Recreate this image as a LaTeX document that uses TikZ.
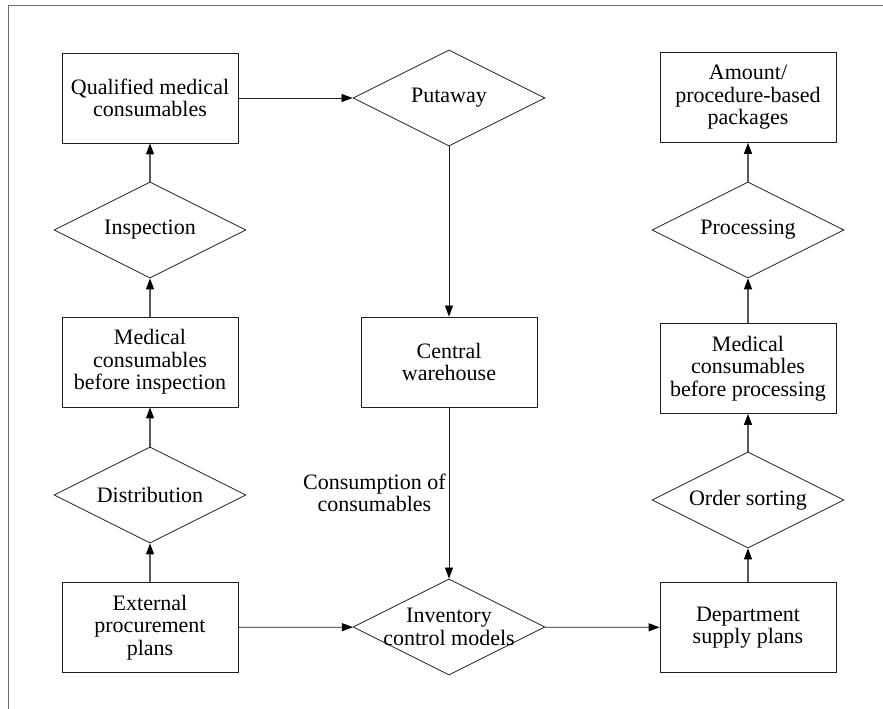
\documentclass[tikz,border=0pt]{standalone}
\usepackage{fontspec}
\setmainfont{Liberation Serif}
\usetikzlibrary{shapes.geometric,arrows.meta}
\definecolor{drawColor}{RGB}{30,30,30}
\definecolor{arrowColor}{RGB}{90,90,90}
\definecolor{frameColor}{RGB}{110,110,110}
\begin{document}
\begin{tikzpicture}[x=1pt,y=1pt,
  box/.style={draw=drawColor,line width=0.8pt,minimum width=176pt,minimum height=90pt,inner sep=0pt,align=center,font=\fontsize{22}{22.5}\selectfont},
  dia/.style={draw=drawColor,line width=0.8pt,diamond,aspect=2,minimum width=192pt,minimum height=96pt,inner sep=0pt,align=center,font=\fontsize{22}{22.5}\selectfont},
  txt/.style={inner sep=3pt,align=center,font=\fontsize{22}{22.5}\selectfont},
  flow/.style={draw=drawColor,line width=0.8pt,-{Triangle[length=11pt,width=8pt,fill=black,color=black]}},
  upflow/.style={flow,draw=arrowColor,line width=1.3pt}]
\path[use as bounding box,fill=white] (0,0) rectangle (883,709);
\path[draw=frameColor,line width=1pt] (8,0) -- (8,703) -- (883,703);

\node[box] (qual) at (150,611) {Qualified medical\\consumables};
\node[dia] (insp) at (150,479) {Inspection};
\node[box] (medi) at (150,347) {Medical\\consumables\\before inspection};
\node[dia] (dist) at (150,214) {Distribution};
\node[box] (ext) at (150,81.5) {External\\procurement\\plans};

\node[dia] (put) at (449,611) {Putaway};
\node[box] (cent) at (449,347) {Central\\warehouse};
\node[dia] (inv) at (449,82) {};
\node[txt] (invtxt) at (inv) {Inventory\\control models};

\node[box] (amt) at (748,611.5) {Amount/\\procedure-based\\packages};
\node[dia] (proc) at (748,479) {Processing};
\node[box] (medp) at (748,340.5) {Medical\\consumables\\before processing};
\node[dia] (ord) at (748,209) {Order sorting};
\node[box] (dep) at (748,81.5) {Department\\supply plans};

\draw[upflow] (ext) -- (dist);
\draw[upflow] (dist) -- (medi);
\draw[upflow] (medi) -- (insp);
\draw[upflow] (insp) -- (qual);
\draw[flow] (qual) -- (put);
\draw[flow] (put) -- (cent);
\draw[flow] (cent) -- node[txt,left] (cons) {Consumption of\\consumables} (inv);
\draw[flow] (ext) -- (inv);
\draw[flow] (inv) -- (dep);
\draw[upflow] (dep) -- (ord);
\draw[upflow] (ord) -- (medp);
\draw[upflow] (medp) -- (proc);
\draw[upflow] (proc) -- (amt);
\end{tikzpicture}
\end{document}
